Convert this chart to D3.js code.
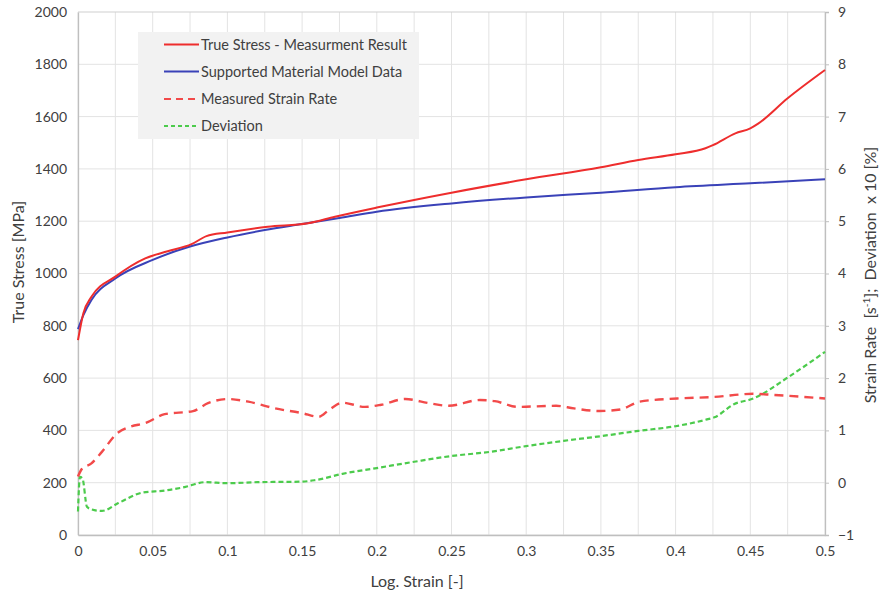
<!DOCTYPE html>
<html>
<head>
<meta charset="utf-8">
<script src="https://cdn.jsdelivr.net/npm/d3@7"></script>
<style>
  html, body { margin: 0; padding: 0; background: #fff; }
  text { font-family: Lato, "Open Sans", sans-serif; fill: #404040; }
</style>
</head>
<body>
<svg id="chart" width="879" height="593"></svg>
<script>
// ---- data ----
const xTicks = [0, 0.05, 0.1, 0.15, 0.2, 0.25, 0.3, 0.35, 0.4, 0.45, 0.5];
const xTickLabels = ["0", "0.05", "0.1", "0.15", "0.2", "0.25", "0.3", "0.35", "0.4", "0.45", "0.5"];
const yLeftTicks = [0, 200, 400, 600, 800, 1000, 1200, 1400, 1600, 1800, 2000];
const yRightTicks = [-1, 0, 1, 2, 3, 4, 5, 6, 7, 8, 9];

const stressX = [0, 0.0036, 0.009, 0.025, 0.045, 0.06, 0.076, 0.086, 0.1, 0.127, 0.154, 0.172, 0.2, 0.25, 0.3, 0.35, 0.375, 0.4, 0.42, 0.425, 0.44, 0.45, 0.455, 0.475, 0.5];
const stressY = [745, 848, 911, 988, 1058, 1085, 1112, 1143, 1157, 1179, 1192, 1217, 1252, 1309, 1360, 1406, 1434, 1456, 1479, 1491, 1536, 1555, 1572, 1670, 1778];

const modelX = [0, 0.0036, 0.009, 0.025, 0.05, 0.075, 0.1, 0.125, 0.15, 0.175, 0.2, 0.25, 0.3, 0.35, 0.4, 0.45, 0.5];
const modelY = [787, 841, 899, 981, 1052, 1103, 1138, 1166, 1189, 1212, 1236, 1268, 1291, 1309, 1330, 1345, 1360];

const rateX = [0, 0.0025, 0.009, 0.016, 0.026, 0.035, 0.045, 0.058, 0.077, 0.087, 0.1, 0.114, 0.132, 0.15, 0.161, 0.168, 0.177, 0.192, 0.203, 0.219, 0.235, 0.248, 0.269, 0.279, 0.294, 0.32, 0.332, 0.349, 0.363, 0.376, 0.401, 0.426, 0.452, 0.465, 0.5];
const rateY = [0.12, 0.26, 0.37, 0.59, 0.94, 1.07, 1.14, 1.31, 1.37, 1.52, 1.6, 1.55, 1.42, 1.33, 1.26, 1.39, 1.53, 1.45, 1.49, 1.6, 1.52, 1.47, 1.58, 1.56, 1.45, 1.47, 1.42, 1.37, 1.40, 1.55, 1.61, 1.64, 1.70, 1.68, 1.61];

const devX = [0, 0.0013, 0.003, 0.006, 0.009, 0.016, 0.027, 0.043, 0.058, 0.072, 0.085, 0.1, 0.12, 0.15, 0.159, 0.177, 0.2, 0.225, 0.25, 0.276, 0.3, 0.325, 0.35, 0.375, 0.4, 0.421, 0.426, 0.439, 0.452, 0.476, 0.5];
const devY = [-0.55, 0.11, 0.08, -0.46, -0.51, -0.54, -0.39, -0.19, -0.15, -0.08, 0.01, -0.01, 0.01, 0.02, 0.05, 0.17, 0.28, 0.40, 0.51, 0.59, 0.70, 0.80, 0.89, 0.99, 1.08, 1.21, 1.25, 1.50, 1.61, 2.03, 2.50];

const legendLabels = ["True Stress - Measurment Result", "Supported Material Model Data", "Measured Strain Rate", "Deviation"];

// ---- layout ----
const svg = d3.select("#chart");
const L = 78, R = 825, T = 12, B = 535;
const x = d3.scaleLinear().domain([0, 0.5]).range([L, R]);
const yL = d3.scaleLinear().domain([0, 2000]).range([B, T]);
const yR = d3.scaleLinear().domain([-1, 9]).range([B, T]);

const gridColor = "#e3e3e3";
const axisColor = "#bfbfbf";

// grid
const g = svg.append("g");
g.selectAll("line.v").data(d3.range(0, 21).map(i => i * 0.025)).enter().append("line")
  .attr("x1", d => x(d)).attr("x2", d => x(d)).attr("y1", T).attr("y2", B)
  .attr("stroke", gridColor).attr("stroke-width", 1);
g.selectAll("line.h").data(yLeftTicks).enter().append("line")
  .attr("x1", L).attr("x2", R).attr("y1", d => yL(d)).attr("y2", d => yL(d))
  .attr("stroke", d => d === 2000 ? "#cfcfcf" : gridColor).attr("stroke-width", 1);

// axes
const axL = d3.axisLeft(yL).tickValues(yLeftTicks).tickSize(0).tickPadding(11).tickFormat(d3.format("d"));
const axB = d3.axisBottom(x).tickValues(xTicks).tickSize(0).tickPadding(11).tickFormat((d, i) => xTickLabels[i]);
const axR = d3.axisRight(yR).tickValues(yRightTicks).tickSize(4).tickPadding(9).tickFormat(d3.format("d"));

function styleAxis(sel) {
  sel.select(".domain").attr("stroke", axisColor).attr("stroke-width", 1.3);
  sel.selectAll(".tick line").attr("stroke", axisColor);
  sel.selectAll(".tick text").style("font-family", "Lato, sans-serif").style("font-size", "14px").attr("fill", "#404040");
}
svg.append("g").attr("transform", `translate(${L},0)`).call(axL).call(styleAxis);
svg.append("g").attr("transform", `translate(0,${B})`).call(axB).call(styleAxis);
svg.append("g").attr("transform", `translate(${R},0)`).call(axR).call(styleAxis);

// axis titles
svg.append("text").attr("transform", "translate(24,262) rotate(-90)")
  .attr("text-anchor", "middle").style("font-size", "16px").text("True Stress [MPa]");
svg.append("text").attr("x", 417).attr("y", 587)
  .attr("text-anchor", "middle").style("font-size", "16px").text("Log. Strain [-]");
const rt = svg.append("text").attr("transform", "translate(876,275) rotate(-90)")
  .attr("text-anchor", "middle").style("font-size", "16px").style("white-space", "pre");
rt.append("tspan").text("Strain Rate  [s");
rt.append("tspan").attr("dy", -6).style("font-size", "10px").text("-1");
rt.append("tspan").attr("dy", 6).text("];  Deviation  x 10 [%]");

// lines
const curve = d3.curveMonotoneX;
function drawLine(xs, ys, yScale, color, dash, width) {
  const pts = xs.map((d, i) => [d, ys[i]]);
  svg.append("path").datum(pts)
    .attr("d", d3.line().x(d => x(d[0])).y(d => yScale(d[1])).curve(curve))
    .attr("fill", "none").attr("stroke", color).attr("stroke-width", width)
    .attr("stroke-dasharray", dash).attr("stroke-linejoin", "round");
}
const cRed = "#ee2d2d", cBlue = "#3a42b8", cRedD = "#f24a4a", cGreen = "#4ccb4c";
drawLine(devX, devY, yR, cGreen, "5,3", 2.2);
drawLine(rateX, rateY, yR, cRedD, "9,6", 2.4);
drawLine(modelX, modelY, yL, cBlue, null, 2);
drawLine(stressX, stressY, yL, cRed, null, 2);

// legend
const lg = svg.append("g");
lg.append("rect").attr("x", 138).attr("y", 32).attr("width", 281).attr("height", 107).attr("fill", "#f2f2f2");
const styles = [
  { c: cRed, dash: null }, { c: cBlue, dash: null }, { c: cRedD, dash: "7,5" }, { c: cGreen, dash: "4,3" }
];
const rowY = [44.5, 71.5, 99, 126];
legendLabels.forEach((lab, i) => {
  lg.append("line").attr("x1", 164).attr("x2", 199).attr("y1", rowY[i]).attr("y2", rowY[i])
    .attr("stroke", styles[i].c).attr("stroke-width", 2).attr("stroke-dasharray", styles[i].dash);
  lg.append("text").attr("x", 201).attr("y", rowY[i] + 5).style("font-size", "14.5px").text(lab);
});
</script>
</body>
</html>
